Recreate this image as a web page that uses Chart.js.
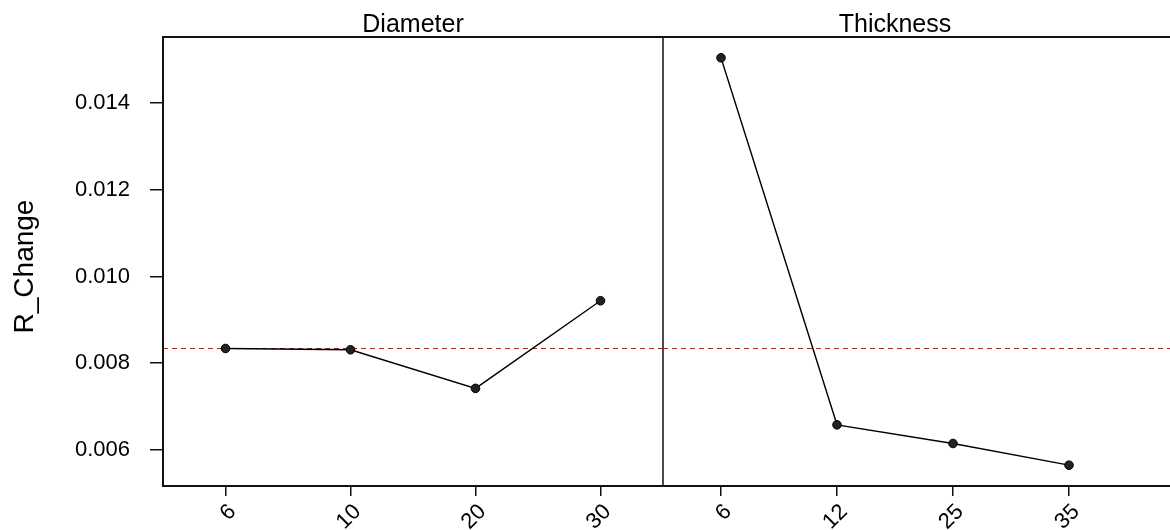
<!DOCTYPE html>
<html>
<head>
<meta charset="utf-8">
<script src="https://cdn.jsdelivr.net/npm/chart.js@4/dist/chart.umd.min.js"></script>
<style>
  html, body { margin: 0; padding: 0; background: #fff; width: 1170px; height: 530px; overflow: hidden; }
  #c1 { position: absolute; left: 0; top: 0; }
  #c2 { position: absolute; left: 660px; top: 0; }
</style>
</head>
<body>
<canvas id="c1" width="665" height="530"></canvas>
<canvas id="c2" width="600" height="530"></canvas>
<script>
// ---- data ----
const panelTitles = ['Diameter', 'Thickness'];
const diameterLabels = ['6', '10', '20', '30'];
const diameterValues = [0.00834, 0.00831, 0.00742, 0.00944];
const thicknessLabels = ['6', '12', '25', '35'];
const thicknessValues = [0.01504, 0.00658, 0.00615, 0.00565];
const meanValue = 0.00834;
const yTickValues = [0.006, 0.008, 0.010, 0.012, 0.014];
const yAxisTitle = 'R_Change';
const yMin = 0.00517;
const yMax = 0.01552;

const FONT = '"Liberation Sans", Arial, sans-serif';
Chart.defaults.font.family = FONT;
Chart.defaults.color = '#000';

const framePlugin = {
  id: 'frame',
  beforeDatasetsDraw(chart, args, opts) {
    const ctx = chart.ctx;
    const a = chart.chartArea;
    const y = chart.scales.y;
    const rightEnd = opts.extendRight ? chart.width : a.right;
    // mean line
    const my = y.getPixelForValue(meanValue);
    ctx.save();
    ctx.strokeStyle = '#ff0000';
    ctx.lineWidth = 1.2;
    ctx.setLineDash([5, 4]);
    ctx.beginPath();
    ctx.moveTo(a.left, my);
    ctx.lineTo(rightEnd, my);
    ctx.stroke();
    ctx.restore();
  },
  afterDraw(chart, args, opts) {
    const ctx = chart.ctx;
    const a = chart.chartArea;
    const rightEnd = opts.extendRight ? chart.width : a.right;
    ctx.save();
    ctx.strokeStyle = '#111';
    ctx.lineWidth = 2;
    ctx.beginPath();
    ctx.moveTo(a.left, a.top); ctx.lineTo(rightEnd, a.top);
    ctx.moveTo(a.left, a.bottom); ctx.lineTo(rightEnd, a.bottom);
    if (opts.drawLeft) { ctx.moveTo(a.left, a.top - 1); ctx.lineTo(a.left, a.bottom + 1); }
    ctx.stroke();
    if (opts.drawRight) {
      ctx.lineWidth = 1.5;
      ctx.beginPath();
      ctx.moveTo(a.right, a.top); ctx.lineTo(a.right, a.bottom);
      ctx.stroke();
    }
    // panel title
    ctx.fillStyle = '#000';
    ctx.font = '25px ' + FONT;
    ctx.textAlign = 'center';
    ctx.textBaseline = 'alphabetic';
    ctx.fillText(opts.title, (a.left + a.right) / 2, 32);
    // y axis title
    if (opts.yTitle) {
      ctx.font = '28px ' + FONT;
      ctx.translate(33, (a.top + a.bottom) / 2 + 5);
      ctx.rotate(-Math.PI / 2);
      ctx.fillText(opts.yTitle, 0, 0);
    }
    ctx.restore();
  }
};

function makeChart(id, labels, values, cfg) {
  return new Chart(document.getElementById(id), {
    type: 'line',
    data: {
      labels: labels,
      datasets: [{
        data: values,
        borderColor: '#000',
        borderWidth: 1.4,
        pointBackgroundColor: '#222',
        pointBorderColor: '#000',
        pointBorderWidth: 1,
        pointRadius: 4.3,
        tension: 0,
        fill: false
      }]
    },
    options: {
      responsive: false,
      animation: false,
      devicePixelRatio: 1,
      layout: { padding: cfg.padding, autoPadding: false },
      plugins: {
        legend: { display: false },
        tooltip: { enabled: false },
        title: { display: false },
        frame: cfg.frame
      },
      scales: {
        x: {
          type: 'category',
          offset: true,
          border: { display: false },
          grid: { display: true, drawOnChartArea: false, drawTicks: true, tickLength: 10, color: '#111', lineWidth: 1.5, offset: false },
          ticks: { font: { size: 22, family: FONT }, color: '#000', minRotation: 45, maxRotation: 45, padding: 3, labelOffset: 7, autoSkip: false },
          afterFit(scale) { scale.height = 44; scale.paddingLeft = 0; scale.paddingRight = 0; }
        },
        y: {
          type: 'linear',
          display: cfg.showY,
          min: yMin,
          max: yMax,
          border: { display: false },
          grid: { display: true, drawOnChartArea: false, drawTicks: true, tickLength: 13, color: '#111', lineWidth: 1.5 },
          ticks: {
            font: { size: 22, family: FONT }, color: '#000', padding: 20,
            callback: (v) => Number(v).toFixed(3)
          },
          afterBuildTicks(scale) { scale.ticks = yTickValues.map(v => ({ value: v })); },
          afterFit(scale) { if (cfg.showY) scale.width = 163; }
        }
      }
    },
    plugins: [framePlugin]
  });
}

makeChart('c1', diameterLabels, diameterValues, {
  padding: { top: 37, right: 2, bottom: 0, left: 0 },
  showY: true,
  frame: { title: panelTitles[0], yTitle: yAxisTitle, drawLeft: true, drawRight: true, extendRight: false }
});
makeChart('c2', thicknessLabels, thicknessValues, {
  padding: { top: 37, right: 133, bottom: 0, left: 3 },
  showY: false,
  frame: { title: panelTitles[1], yTitle: null, drawLeft: false, drawRight: false, extendRight: true }
});
</script>
</body>
</html>
